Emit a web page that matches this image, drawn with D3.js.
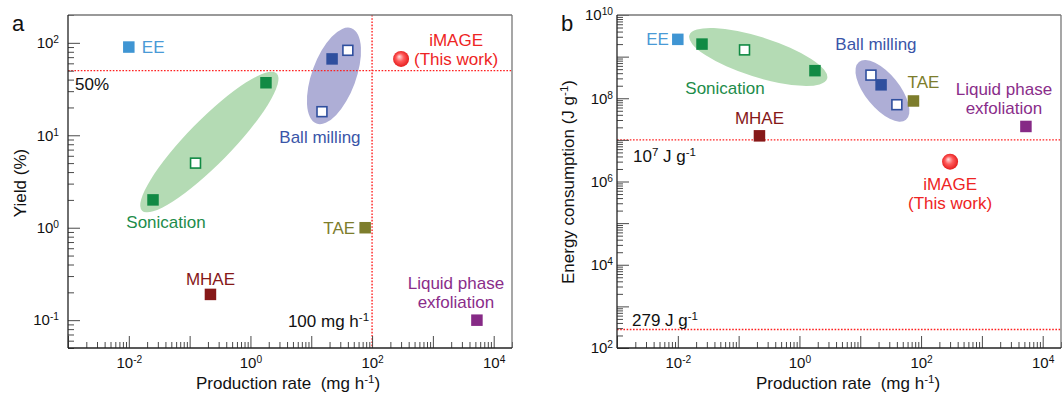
<!DOCTYPE html>
<html>
<head>
<meta charset="utf-8">
<script src="https://cdn.jsdelivr.net/npm/d3@7"></script>
<style>
  body { margin: 0; background: #fff; }
  svg { font-family: "Liberation Sans", Arial, sans-serif; }
</style>
</head>
<body>
<svg id="chart" width="1062" height="394"></svg>
<script>
// shared x axis
const rateDomain = [1e-3, 2e4];
const rateLabelExps = [-2, 0, 2, 4];

// panel a: yield vs production rate
const yieldDomain = [0.05, 200];
const yieldLabelExps = [-1, 0, 1, 2];
const yieldMethods = ['EE', 'Sonication', 'Sonication', 'Sonication', 'Ball milling', 'Ball milling', 'Ball milling', 'TAE', 'MHAE', 'LPE'];
const yieldRates = [0.01, 0.025, 0.125, 1.8, 22, 40, 15, 77, 0.22, 5300];
const yieldValues = [90, 2, 5, 37, 67, 83, 18, 1, 0.19, 0.1];
const yieldOpen = [false, false, true, false, false, true, true, false, false, false];
const yieldSonicationHull = [[0.0165, 1.53], [2.7, 46.7]];
const yieldBallHull = [[12.2, 13.4], [45.8, 144]];

// panel b: energy consumption vs production rate
const energyDomain = [1e2, 1e10];
const energyLabelExps = [2, 4, 6, 8, 10];
const energyMethods = ['EE', 'Sonication', 'Sonication', 'Sonication', 'Ball milling', 'Ball milling', 'Ball milling', 'TAE', 'MHAE', 'LPE'];
const energyRates = [0.01, 0.025, 0.125, 1.8, 15, 22, 40, 75, 0.22, 5300];
const energyValues = [2.6e9, 2e9, 1.45e9, 4.6e8, 3.6e8, 2.1e8, 7e7, 8.6e7, 1.25e7, 2.1e7];
const energyOpen = [false, false, true, false, true, false, true, false, false, false];
const energySonicationHull = [[0.0155, 3.27e9], [2.85, 2.94e8]];
const energyBallHull = [[9.5, 7.45e8], [56.5, 3.05e7]];

// this work
const imageRate = 300;
const imageYield = 67;
const imageEnergy = 3e6;

// reference lines
const yieldRef = 50;
const rateRef = 100;
const energyRefs = [1e7, 279];

const markColor = { 'EE': '#3f95d3', 'Sonication': '#118a44', 'Ball milling': '#2f4f9e', 'TAE': '#7d7d2c', 'MHAE': '#861818', 'LPE': '#862a86' };
const textColor = { 'EE': '#4a9ad6', 'Sonication': '#1d8c4a', 'Ball milling': '#3a55a8', 'TAE': '#7d7d2c', 'MHAE': '#861818', 'LPE': '#8a2d8a', 'iMAGE': '#ee2424' };
const refColor = '#ff2020';

const svg = d3.select('#chart');
const W = 444, H = 333;

const defs = svg.append('defs');
const grad = defs.append('radialGradient').attr('id', 'sphere').attr('cx', '50%').attr('cy', '50%').attr('r', '55%').attr('fx', '38%').attr('fy', '35%');
grad.append('stop').attr('offset', '0%').attr('stop-color', '#ffe0e0');
grad.append('stop').attr('offset', '45%').attr('stop-color', '#ff5a5a');
grad.append('stop').attr('offset', '100%').attr('stop-color', '#e11515');

// text with superscript parts: [[text, isSup], ...]
function rich(sel, parts) {
    parts.forEach(([t, sup]) => {
        const ts = sel.append('tspan').text(t);
        if (sup) ts.attr('font-size', '0.68em').attr('baseline-shift', 'super');
    });
    return sel;
}

function powLabel(sel, d) {
    sel.text(null);
    rich(sel, [['10'], [String(Math.round(Math.log10(d))), true]]);
}

function drawPanel(cfg) {
    const g = svg.append('g').attr('transform', `translate(${cfg.left},${cfg.top})`);
    const x = d3.scaleLog().domain(rateDomain).range([0, W]);
    const y = d3.scaleLog().domain(cfg.yDomain).range([H, 0]);
    const clip = 'clip-' + cfg.id;
    defs.append('clipPath').attr('id', clip).append('rect').attr('width', W).attr('height', H);
    const plot = g.append('g').attr('clip-path', `url(#${clip})`);

    // shaded groups
    cfg.hulls.forEach(h => {
        const x1 = x(h.ends[0][0]), y1 = y(h.ends[0][1]);
        const x2 = x(h.ends[1][0]), y2 = y(h.ends[1][1]);
        const angle = Math.atan2(y2 - y1, x2 - x1) * 180 / Math.PI;
        plot.append('ellipse')
            .attr('rx', Math.hypot(x2 - x1, y2 - y1) / 2)
            .attr('ry', h.ry)
            .attr('transform', `translate(${(x1 + x2) / 2},${(y1 + y2) / 2}) rotate(${angle})`)
            .attr('fill', h.fill);
    });

    // reference lines
    cfg.hRefs.forEach(v => {
        plot.append('line').attr('x1', 0).attr('x2', W).attr('y1', y(v)).attr('y2', y(v))
            .attr('stroke', refColor).attr('stroke-width', 1.4).attr('stroke-dasharray', '1.6,1.6');
    });
    cfg.vRefs.forEach(v => {
        plot.append('line').attr('y1', 0).attr('y2', H).attr('x1', x(v)).attr('x2', x(v))
            .attr('stroke', refColor).attr('stroke-width', 1.4).attr('stroke-dasharray', '1.6,1.6');
    });

    // markers
    const pts = cfg.methods.map((m, i) => ({ m, rate: cfg.rates[i], val: cfg.values[i], open: cfg.open[i] }));
    const s = 11.5;
    plot.selectAll('rect.pt').data(pts).enter().append('rect')
        .attr('class', 'pt')
        .attr('x', d => x(d.rate) - (d.open ? s - 1.6 : s) / 2)
        .attr('y', d => y(d.val) - (d.open ? s - 1.6 : s) / 2)
        .attr('width', d => d.open ? s - 1.6 : s)
        .attr('height', d => d.open ? s - 1.6 : s)
        .attr('fill', d => d.open ? '#fff' : markColor[d.m])
        .attr('stroke', d => d.open ? markColor[d.m] : 'none')
        .attr('stroke-width', 1.6);

    plot.append('circle').attr('cx', x(imageRate)).attr('cy', y(cfg.imageVal)).attr('r', 8).attr('fill', 'url(#sphere)');

    // annotations
    cfg.labels.forEach(l => {
        const px = l.at ? x(l.at[0]) : x(pts[l.ref].rate);
        const py = l.at ? y(l.at[1]) : y(pts[l.ref].val);
        const lines = Array.isArray(l.text) ? l.text : [l.text];
        lines.forEach((t, k) => {
            const tx = g.append('text')
                .attr('x', px + l.dx)
                .attr('y', py + l.dy + k * 19)
                .attr('dy', '0.35em')
                .attr('text-anchor', l.anchor || 'middle')
                .attr('fill', l.color)
                .style('font-size', '17px');
            if (typeof t === 'string') tx.text(t); else rich(tx, t);
        });
    });

    // axes
    const lo = Math.log10;
    const xMajors = d3.range(Math.ceil(lo(rateDomain[0])), Math.floor(lo(rateDomain[1])) + 1).map(e => Math.pow(10, e));
    const yMajors = d3.range(Math.ceil(lo(cfg.yDomain[0]) - 1e-9), Math.floor(lo(cfg.yDomain[1]) + 1e-9) + 1).map(e => Math.pow(10, e));
    const isDecade = v => Math.abs(lo(v) - Math.round(lo(v))) < 1e-9;
    const xMinors = x.ticks().filter(v => !isDecade(v));
    const yMinors = y.ticks().filter(v => !isDecade(v));

    const xMinorG = g.append('g').attr('transform', `translate(0,${H})`)
        .call(d3.axisBottom(x).tickValues(xMinors).tickSize(-6).tickFormat(''));
    const xMajorG = g.append('g').attr('transform', `translate(0,${H})`)
        .call(d3.axisBottom(x).tickValues(xMajors).tickSize(-12).tickPadding(9).tickFormat(''));
    const yMinorG = g.append('g').call(d3.axisLeft(y).tickValues(yMinors).tickSize(-6).tickFormat(''));
    const yMajorG = g.append('g').call(d3.axisLeft(y).tickValues(yMajors).tickSize(-12).tickPadding(cfg.yPad).tickFormat(''));

    [xMinorG, xMajorG, yMinorG, yMajorG].forEach(a => {
        a.select('.domain').remove();
        a.selectAll('.tick line').attr('stroke', '#4a4a4a');
    });

    xMajorG.selectAll('.tick text').style('font-size', '15px').style('fill', '#111')
        .each(function (d) { if (rateLabelExps.includes(Math.round(lo(d)))) powLabel(d3.select(this), d); });
    yMajorG.selectAll('.tick text').style('font-size', '15px').style('fill', '#111')
        .each(function (d) { if (cfg.yLabelExps.includes(Math.round(lo(d)))) powLabel(d3.select(this), d); });

    // frame
    g.append('line').attr('x1', 0).attr('x2', W).attr('y1', 0).attr('y2', 0).attr('stroke', '#777').attr('stroke-width', 1.3);
    g.append('line').attr('x1', W).attr('x2', W).attr('y1', 0).attr('y2', H).attr('stroke', '#777').attr('stroke-width', 1.3);
    g.append('line').attr('x1', 0).attr('x2', 0).attr('y1', 0).attr('y2', H).attr('stroke', '#222').attr('stroke-width', 1.3);
    g.append('line').attr('x1', 0).attr('x2', W).attr('y1', H).attr('y2', H).attr('stroke', '#222').attr('stroke-width', 1.3);

    // axis titles
    const xt = g.append('text').attr('x', cfg.xTitleX).attr('y', H + 41).attr('text-anchor', 'middle')
        .style('font-size', '17px').style('fill', '#111').style('white-space', 'pre');
    rich(xt, [['Production rate  (mg h'], ['-1', true], [')']]);
    const yt = g.append('text').attr('transform', `translate(${cfg.yTitleX},${cfg.yTitleY}) rotate(-90)`)
        .attr('text-anchor', 'middle').attr('dy', '0.35em').style('font-size', '17px').style('fill', '#111');
    rich(yt, cfg.yTitle);

    svg.append('text').attr('x', cfg.left - 56).attr('y', 31).text(cfg.letter)
        .style('font-size', '22px').style('fill', '#111');
}

drawPanel({
    id: 'a', letter: 'a', left: 68, top: 15,
    yDomain: yieldDomain, yLabelExps: yieldLabelExps, yPad: 9,
    methods: yieldMethods, rates: yieldRates, values: yieldValues, open: yieldOpen,
    imageVal: imageYield,
    hulls: [
        { ends: yieldSonicationHull, ry: 22, fill: '#b4dbb4' },
        { ends: yieldBallHull, ry: 22, fill: '#aeaed6' }
    ],
    hRefs: [yieldRef], vRefs: [rateRef],
    labels: [
        { ref: 0, text: 'EE', dx: 13, dy: 0, anchor: 'start', color: textColor['EE'] },
        { ref: 1, text: 'Sonication', dx: 13, dy: 22, color: textColor['Sonication'] },
        { ref: 6, text: 'Ball milling', dx: -2, dy: 25, color: textColor['Ball milling'] },
        { ref: 7, text: 'TAE', dx: -10, dy: 0, anchor: 'end', color: textColor['TAE'] },
        { ref: 8, text: 'MHAE', dx: 0, dy: -15, color: textColor['MHAE'] },
        { ref: 9, text: ['Liquid phase', 'exfoliation'], dx: -21, dy: -37, color: textColor['LPE'] },
        { at: [imageRate, imageYield], text: ['iMAGE', '(This work)'], dx: 55, dy: -19, color: textColor['iMAGE'] },
        { at: [rateDomain[0], yieldRef], text: '50%', dx: 7, dy: 13, anchor: 'start', color: '#111' },
        { at: [rateRef, yieldDomain[0]], text: [[['100 mg h'], ['-1', true]]], dx: -3, dy: -27, anchor: 'end', color: '#111' }
    ],
    xTitleX: 220, yTitleX: -48, yTitleY: 168,
    yTitle: [['Yield (%)']]
});

drawPanel({
    id: 'b', letter: 'b', left: 617, top: 15,
    yDomain: energyDomain, yLabelExps: energyLabelExps, yPad: 4,
    methods: energyMethods, rates: energyRates, values: energyValues, open: energyOpen,
    imageVal: imageEnergy,
    hulls: [
        { ends: energySonicationHull, ry: 20, fill: '#b4dbb4' },
        { ends: energyBallHull, ry: 17, fill: '#aeaed6' }
    ],
    hRefs: energyRefs, vRefs: [],
    labels: [
        { ref: 0, text: 'EE', dx: -9, dy: 0, anchor: 'end', color: textColor['EE'] },
        { ref: 1, text: 'Sonication', dx: 23, dy: 44, color: textColor['Sonication'] },
        { ref: 4, text: 'Ball milling', dx: 5, dy: -31, color: textColor['Ball milling'] },
        { ref: 7, text: 'TAE', dx: 10, dy: -19, color: textColor['TAE'] },
        { ref: 8, text: 'MHAE', dx: 0, dy: -18, color: textColor['MHAE'] },
        { ref: 9, text: ['Liquid phase', 'exfoliation'], dx: -22, dy: -37, color: textColor['LPE'] },
        { at: [imageRate, imageEnergy], text: ['iMAGE', '(This work)'], dx: 0, dy: 22, color: textColor['iMAGE'] },
        { at: [rateDomain[0], energyRefs[0]], text: [[['10'], ['7', true], [' J g'], ['-1', true]]], dx: 16, dy: 16, anchor: 'start', color: '#111' },
        { at: [rateDomain[0], energyRefs[1]], text: [[['279 J g'], ['-1', true]]], dx: 15, dy: -9, anchor: 'start', color: '#111' }
    ],
    xTitleX: 231, yTitleX: -49, yTitleY: 167,
    yTitle: [['Energy consumption (J g'], ['-1', true], [')']]
});
</script>
</body>
</html>
